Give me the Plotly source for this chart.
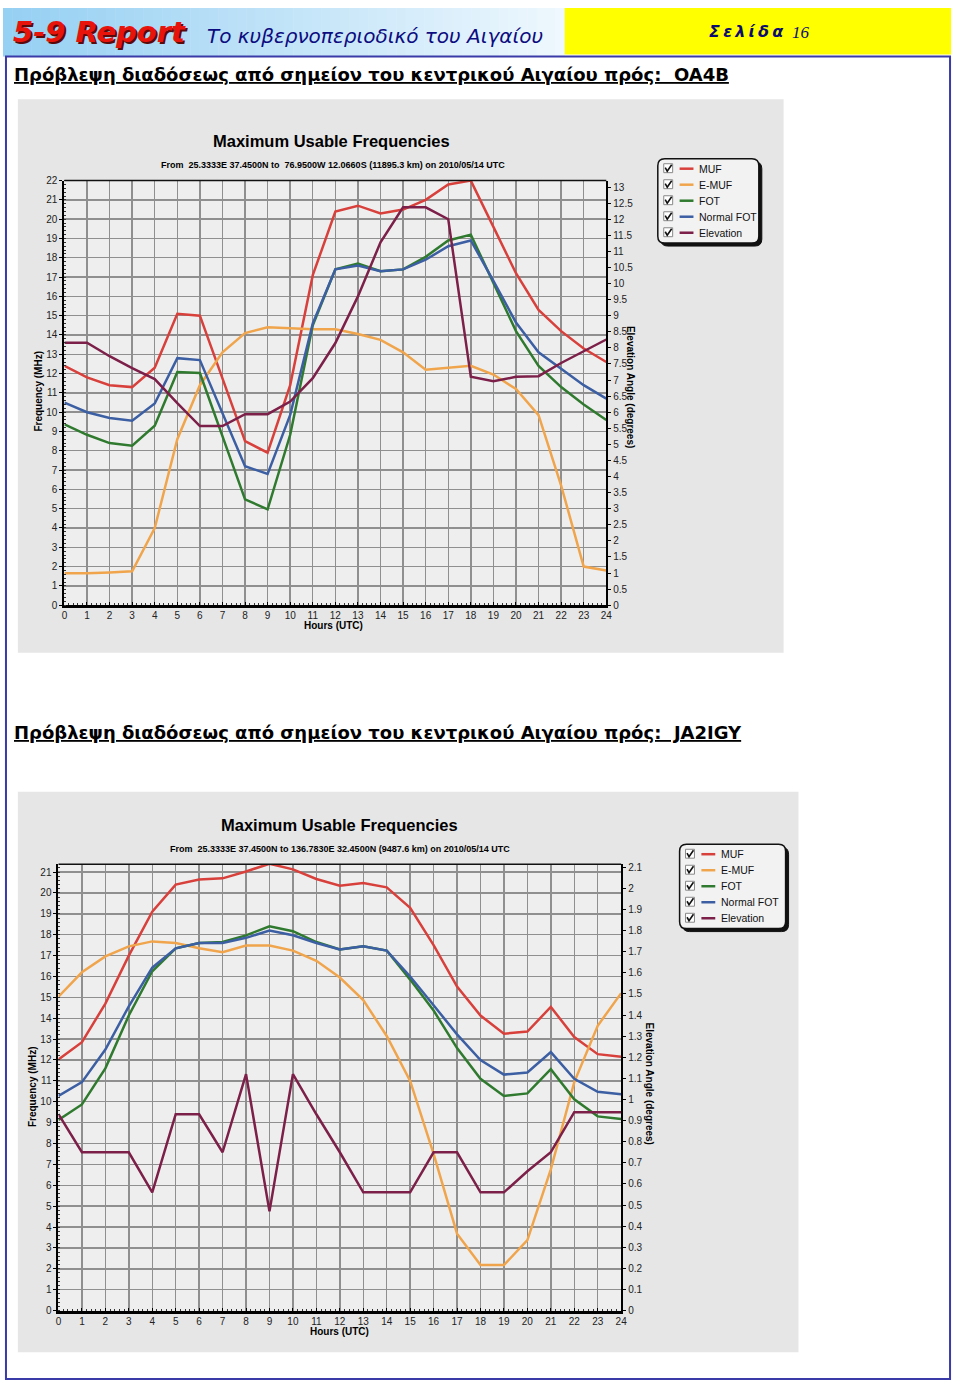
import plotly.graph_objects as go

W, H = 960, 1387

HOURS = list(range(25))

# ---- Chart 1: to OA4B (MHz, elevation in degrees) ----
MUF1 = [12.4, 11.8, 11.4, 11.3, 12.3, 15.1, 15.0, 11.8, 8.5, 7.9, 11.4, 17.1, 20.4,
        20.7, 20.3, 20.5, 21.0, 21.8, 22.0, 19.6, 17.2, 15.3, 14.2, 13.3, 12.6]
EMUF1 = [1.66, 1.66, 1.7, 1.76, 4.0, 8.6, 11.4, 13.1, 14.1, 14.4, 14.35, 14.3, 14.3,
         14.05, 13.75, 13.1, 12.2, 12.3, 12.4, 11.95, 11.2, 9.85, 6.2, 2.0, 1.8]
FOT1 = [9.37, 8.83, 8.4, 8.26, 9.3, 12.08, 12.03, 8.7, 5.48, 4.97, 8.83, 14.5, 17.4,
        17.7, 17.3, 17.4, 18.05, 18.9, 19.2, 16.7, 14.2, 12.4, 11.3, 10.4, 9.6]
NFOT1 = [10.5, 10.0, 9.7, 9.56, 10.45, 12.8, 12.7, 9.95, 7.2, 6.8, 9.86, 14.6, 17.4,
         17.6, 17.3, 17.4, 17.9, 18.6, 18.9, 16.8, 14.65, 13.1, 12.25, 11.4, 10.7]
ELEV1 = [8.16, 8.16, 7.74, 7.37, 7.03, 6.28, 5.57, 5.57, 5.94, 5.94, 6.33, 7.06, 8.15,
         9.6, 11.28, 12.37, 12.37, 12.0, 7.1, 6.96, 7.1, 7.12, 7.53, 7.9, 8.26]

# ---- Chart 2: to JA2IGY ----
MUF2 = [12.03, 12.85, 14.7, 17.0, 19.1, 20.4, 20.64, 20.7, 21.03, 21.4, 21.13, 20.67, 20.35,
        20.48, 20.27, 19.29, 17.5, 15.52, 14.13, 13.26, 13.36, 14.54, 13.1, 12.28, 12.16]
EMUF2 = [15.03, 16.2, 16.96, 17.44, 17.68, 17.6, 17.35, 17.16, 17.48, 17.48, 17.24, 16.75, 15.95,
         14.87, 13.15, 11.0, 7.5, 3.68, 2.18, 2.18, 3.37, 6.76, 10.94, 13.64, 15.2]
FOT2 = [9.13, 9.87, 11.6, 14.13, 16.25, 17.35, 17.6, 17.65, 17.97, 18.4, 18.17, 17.65, 17.29,
        17.45, 17.24, 15.85, 14.37, 12.57, 11.1, 10.28, 10.4, 11.56, 10.12, 9.3, 9.17]
NFOT2 = [10.28, 10.94, 12.5, 14.57, 16.42, 17.35, 17.6, 17.6, 17.85, 18.2, 17.97, 17.6, 17.29,
         17.45, 17.24, 16.0, 14.62, 13.23, 12.0, 11.3, 11.4, 12.38, 11.1, 10.48, 10.36]
ELEV2 = [0.93, 0.75, 0.75, 0.75, 0.56, 0.93, 0.93, 0.75, 1.12, 0.47, 1.12, 0.93, 0.75,
         0.56, 0.56, 0.56, 0.75, 0.75, 0.56, 0.56, 0.66, 0.75, 0.94, 0.94, 0.94]

SERIES_NAMES = ["MUF", "E-MUF", "FOT", "Normal FOT", "Elevation"]
COLORS = ["#d8403c", "#f0a54c", "#2f7a2f", "#3c5fa3", "#7c2049"]

TITLE = "Maximum Usable Frequencies"
SUB1 = "From  25.3333E 37.4500N to  76.9500W 12.0660S (11895.3 km) on 2010/05/14 UTC"
SUB2 = "From  25.3333E 37.4500N to 136.7830E 32.4500N (9487.6 km) on 2010/05/14 UTC"
HEAD1 = "Πρόβλεψη διαδόσεως από σημείον του κεντρικού Αιγαίου πρός:  OA4B"
HEAD2 = "Πρόβλεψη διαδόσεως από σημείον του κεντρικού Αιγαίου πρός:  JA2IGY"


def px(x):
    return x / W


def py(y):
    return 1 - y / H


shapes = []
annotations = []


def rect(x0, y0, x1, y1, fill=None, line=None, lw=0, layer="below"):
    shapes.append(dict(type="rect", xref="paper", yref="paper",
                       x0=px(x0), x1=px(x1), y0=py(y1), y1=py(y0),
                       fillcolor=fill if fill else "rgba(0,0,0,0)",
                       line=dict(color=line if line else "rgba(0,0,0,0)", width=lw),
                       layer=layer))


def hline(x0, x1, y, color, lw, layer="below"):
    shapes.append(dict(type="line", xref="paper", yref="paper",
                       x0=px(x0), x1=px(x1), y0=py(y), y1=py(y),
                       line=dict(color=color, width=lw), layer=layer))


def text(x, y, s, size, color="#000", family="Liberation Sans", xanchor="left",
         yanchor="middle", angle=0, weight="normal", style="normal", lineposition="none"):
    annotations.append(dict(xref="paper", yref="paper", x=px(x), y=py(y), text=s,
                            showarrow=False, xanchor=xanchor, yanchor=yanchor,
                            textangle=angle,
                            font=dict(size=size, color=color, family=family,
                                      weight=weight, style=style,
                                      lineposition=lineposition)))


def rounded(x0, y0, x1, y1, r, fill, line, lw):
    rx, ry = r / W, r / H
    X0, X1, Y0, Y1 = px(x0), px(x1), py(y1), py(y0)
    path = (f"M {X0+rx},{Y0} L {X1-rx},{Y0} Q {X1},{Y0} {X1},{Y0+ry} "
            f"L {X1},{Y1-ry} Q {X1},{Y1} {X1-rx},{Y1} L {X0+rx},{Y1} "
            f"Q {X0},{Y1} {X0},{Y1-ry} L {X0},{Y0+ry} Q {X0},{Y0} {X0+rx},{Y0} Z")
    shapes.append(dict(type="path", xref="paper", yref="paper", path=path,
                       fillcolor=fill, line=dict(color=line, width=lw), layer="below"))


# ---------------- page header ----------------
N = 60
c0, c1 = (150, 208, 243), (238, 248, 254)
for i in range(N):
    t = i / (N - 1)
    c = tuple(int(c0[k] + (c1[k] - c0[k]) * t) for k in range(3))
    rect(567 * i / N, 3, 567 * (i + 1) / N + 0.5, 52, fill=f"rgb{c}")
rect(567, 3, 957, 50, fill="#ffff00")
# page frame
rect(3, 52, 956, 1385, line="#3a3aa8", lw=2)

text(10, 29, "5-9 Report", 29, color="#5a0a0a", family="DejaVu Sans",
     weight="bold", style="italic")
text(8, 27, "5-9 Report", 29, color="#e8140c", family="DejaVu Sans",
     weight="bold", style="italic")
text(204, 31, "Το κυβερνοπεριοδικό του Αιγαίου", 20, color="#0c0c80",
     family="DejaVu Sans", style="italic")
text(711, 27, "Σ\u2009ε\u2009λ\u2009ί\u2009δ\u2009α", 16, color="#0c0c70",
     family="DejaVu Sans", weight="bold", style="italic")
text(794, 28, "16", 17, color="#0c0c70", family="Liberation Serif", style="italic")

text(9, 70, HEAD1, 18, family="DejaVu Sans", weight="bold", lineposition="under")
text(9, 733, HEAD2, 18, family="DejaVu Sans", weight="bold", lineposition="under")

# ---------------- chart panels ----------------
panels = [
    dict(bg=(15, 95, 788, 653), plot=(62, 177, 609, 605), title_x=332, title_y=137,
         sub=SUB1, sub_x=333, sub_y=161, ylab=(36, 389), xlab=(334, 625),
         rlab=(633, 385), legend=(661, 155, 763, 240)),
    dict(bg=(15, 793, 803, 1358), plot=(56, 866, 624, 1316), title_x=340, title_y=827,
         sub=SUB2, sub_x=340, sub_y=851, ylab=(30, 1090), xlab=(340, 1337),
         rlab=(653, 1087), legend=(683, 846, 790, 931)),
]

for p in panels:
    bx0, by0, bx1, by1 = p["bg"]
    rect(bx0, by0, bx1, by1, fill="#e6e6e6")
    x0, y0, x1, y1 = p["plot"]
    rect(x0, y0, x1, y1, fill="#eeeeee")
    hline(x0, x1, y0, "#111", 1.5, layer="above")
    text(p["title_x"], p["title_y"], f"<b>{TITLE}</b>", 16.5, xanchor="center")
    text(p["sub_x"], p["sub_y"], f"<b>{p['sub']}</b>", 9, xanchor="center")
    text(p["ylab"][0], p["ylab"][1], "<b>Frequency (MHz)</b>", 10, xanchor="center",
         angle=-90)
    text(p["xlab"][0], p["xlab"][1], "<b>Hours (UTC)</b>", 10, xanchor="center")
    text(p["rlab"][0], p["rlab"][1], "<b>Elevation Angle (degrees)</b>", 10,
         xanchor="center", angle=90)
    # legend box
    lx0, ly0, lx1, ly1 = p["legend"]
    rounded(lx0 + 3, ly0 + 3, lx1 + 3, ly1 + 3, 7, "#111", "#111", 1)
    rounded(lx0, ly0, lx1, ly1, 7, "#f2f2f2", "#111", 1.5)
    step = (ly1 - ly0 - 14) / 4.4
    for i, (nm, col) in enumerate(zip(SERIES_NAMES, COLORS)):
        cy = ly0 + 10 + i * step
        bx = lx0 + 6
        rect(bx, cy - 5, bx + 9, cy + 4, fill="#ffffff", line="#888", lw=1)
        shapes.append(dict(type="path", xref="paper", yref="paper",
                           path=f"M {px(bx+1.5)},{py(cy-1)} L {px(bx+3.5)},{py(cy+2.5)} "
                                f"L {px(bx+8)},{py(cy-4)}",
                           line=dict(color="#111", width=1.6), layer="below"))
        hline(lx0 + 22, lx0 + 36, cy, col, 2.5)
        text(lx0 + 40, cy, nm, 10.5, color="#111")

# ---------------- traces ----------------
fig = go.Figure()
sets = [(MUF1, EMUF1, FOT1, NFOT1, ELEV1, "x", "y", "y2"),
        (MUF2, EMUF2, FOT2, NFOT2, ELEV2, "x2", "y3", "y4")]
for muf, emuf, fot, nfot, elev, xa, ya, ea in sets:
    for vals, nm, col, yax in [(muf, "MUF", COLORS[0], ya), (emuf, "E-MUF", COLORS[1], ya),
                               (fot, "FOT", COLORS[2], ya), (nfot, "Normal FOT", COLORS[3], ya),
                               (elev, "Elevation", COLORS[4], ea)]:
        fig.add_trace(go.Scatter(x=HOURS, y=vals, mode="lines", name=nm, xaxis=xa,
                                 yaxis=yax, line=dict(color=col, width=2.5),
                                 hoverinfo="skip"))

tickfont = dict(size=10, color="#222", family="Liberation Sans")
grid = "#8f8f8f"


def xaxis(domain, anchor):
    return dict(domain=domain, anchor=anchor, range=[0, 24], tickmode="array",
                tickvals=HOURS, ticktext=[str(h) for h in HOURS], showgrid=True,
                gridcolor=grid, gridwidth=1.4, showline=True, linecolor="#000",
                linewidth=3, ticks="inside", ticklen=3, tickcolor="#000",
                tickfont=tickfont, zeroline=False, ticklabelstandoff=-1,
                minor=dict(dtick=0.2, ticks="inside", ticklen=2, tickcolor="#333",
                           showgrid=False))


def yaxis(domain, anchor, top):
    return dict(domain=domain, anchor=anchor, range=[0, top], dtick=1, tick0=0,
                showgrid=True, gridcolor=grid, gridwidth=1.4, showline=True,
                linecolor="#000", linewidth=2, ticks="outside", ticklen=3,
                tickcolor="#000", tickfont=tickfont, zeroline=False,
                minor=dict(dtick=0.2, ticks="inside", ticklen=2, tickcolor="#333",
                           showgrid=False))


def raxis(overlay, anchor, top, dt):
    return dict(overlaying=overlay, anchor=anchor, side="right", range=[0, top],
                dtick=dt, tick0=0, showgrid=False, showline=True, linecolor="#000",
                linewidth=2, ticks="outside", ticklen=3, tickcolor="#000",
                tickfont=tickfont, zeroline=False)


p1 = panels[0]["plot"]
p2 = panels[1]["plot"]
fig.update_layout(
    width=W, height=H, margin=dict(l=0, r=0, t=0, b=0),
    paper_bgcolor="white", plot_bgcolor="rgba(0,0,0,0)", showlegend=False,
    xaxis=xaxis([px(p1[0]), px(p1[2])], "y"),
    yaxis=yaxis([py(p1[3]), py(p1[1])], "x", 22),
    yaxis2=raxis("y", "x", 13.2, 0.5),
    xaxis2=xaxis([px(p2[0]), px(p2[2])], "y3"),
    yaxis3=yaxis([py(p2[3]), py(p2[1])], "x2", 21.38),
    yaxis4=raxis("y3", "x2", 2.115, 0.1),
    shapes=shapes, annotations=annotations,
)

fig.write_html("out.html",
               config={"displayModeBar": False, "staticPlot": True},
               post_script="document.body.style.margin='0px';"
                           "document.body.style.overflow='hidden';")
